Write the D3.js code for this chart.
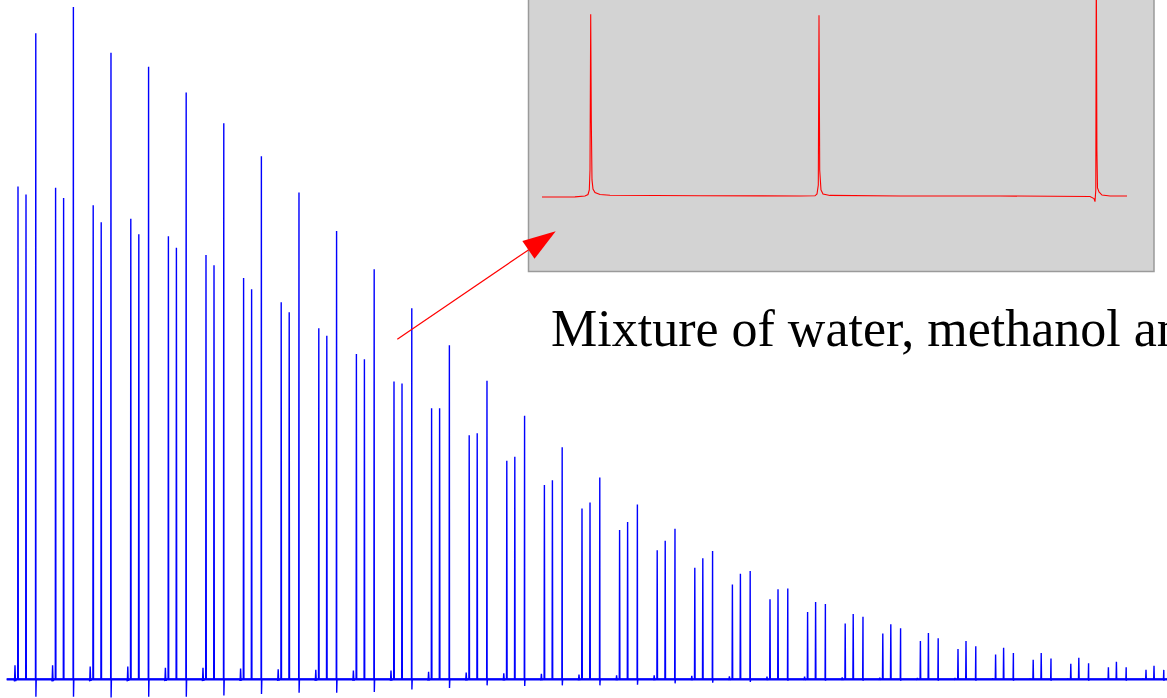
<!DOCTYPE html>
<html>
<head>
<meta charset="utf-8">
<script src="https://cdn.jsdelivr.net/npm/d3@7"></script>
<style>
  html, body { margin: 0; padding: 0; background: #fff; overflow: hidden; }
  svg { display: block; }
</style>
</head>
<body>
<svg id="chart" width="1167" height="698"></svg>
<script>
// ---- Series of 1D spectra, one group of lines per acquisition ----
const scans = d3.range(31);

// line intensities per acquisition (arbitrary units)
const peakA = [73.3, 73.1, 70.5, 68.5, 65.9, 63.1, 59.7, 56.1, 52.2, 48.4, 44.3, 40.3, 36.3, 32.5, 28.9, 25.4,
               22.2, 19.2, 16.6, 14.1, 11.9, 10.0, 8.3, 6.8, 5.7, 4.5, 3.7, 2.9, 2.3, 1.8, 1.4];
const peakB = [72.1, 71.6, 68.0, 66.2, 64.2, 61.6, 58.0, 54.6, 51.1, 47.6, 44.0, 40.3, 36.6, 33.1, 29.6, 26.3,
               23.4, 20.6, 18.0, 15.7, 13.4, 11.5, 9.7, 8.2, 6.9, 5.7, 4.7, 3.9, 3.2, 2.6, 2.0];
const peakC = [96.1, 100.0, 93.2, 91.1, 87.3, 82.7, 77.8, 72.4, 66.7, 61.0, 55.2, 49.7, 44.4, 39.2, 34.5, 30.0,
               26.0, 22.4, 19.1, 16.1, 13.5, 11.2, 9.3, 7.6, 6.1, 4.9, 3.9, 3.1, 2.4, 1.8, 1.4];
// small leading artefact of each acquisition
const leadSpike = [2.1, 2.1, 1.9, 1.9, 1.7, 1.7, 1.6, 1.5, 1.4, 1.3, 1.3, 1.1, 1.0, 0.9, 0.8, 0.7,
                   0.6, 0.6, 0.5, 0.45, 0.4, 0.4, 0.3, 0.25, 0.2, 0.2, 0.15, 0.1, 0.08, 0.08, 0.08];
// undershoot below the baseline after line C
const undershootC = [2.6, 2.6, 2.7, 2.6, 2.6, 2.4, 2.2, 2.0, 2.0, 1.9, 1.5, 1.3, 0.9, 1.0, 0.9, 0.9,
                     0.8, 0.6, 0.5, 0.4, 0.2, 0.2, 0.2, 0.2, 0.2, 0.2, 0.2, 0.2, 0.2, 0.2, 0.2];
// line positions inside one acquisition, in acquisition units
const lineOffset = { lead: -0.08, A: 0, B: 0.213, C: 0.473 };

// ---- Reference spectrum of the mixture (inset) ----
const refShift = [0, 33, 43, 46, 47.3, 48, 48.7, 49.3, 50, 51, 53, 58, 68, 158, 258,
                  273, 275, 276.3, 277, 277.7, 279, 281, 288, 358, 458,
                  548, 552, 553, 553.8, 554.3, 554.9, 555.5, 557, 560, 568, 585];
const refIntensity = [-0.2, -0.1, 0.4, 1.2, 3.7, 14.6, 100, 42.0, 9.2, 4.2, 2.3, 1.2, 0.8, 0.5, 0.4,
                      0.5, 1.5, 6.4, 99.5, 14.6, 3.7, 1.5, 0.7, 0.4, 0.4,
                      0.1, -1.0, -2.7, 3.7, 130, 25.6, 4.8, 2.6, 0.9, 0.4, 0.4];

const caption = "Mixture of water, methanol and";

// ---------------------------------------------------------------
const svg = d3.select("#chart");
const W = 1167, H = 698;

const x = d3.scaleLinear().domain([0, 30]).range([18, 1146]);
const y = d3.scaleLinear().domain([0, 100]).range([679.3, 7]);

// build the concatenated spectrum trace
const trace = [[-0.3, 0]];
scans.forEach(i => {
  const p = leadSpike[i];
  const l = i + lineOffset.lead;
  trace.push([l - 0.025, 0], [l - 0.012, -0.15 * p], [l, p], [l + 0.01, 0], [l + 0.02, -0.12 * p], [l + 0.032, 0]);
  const a = i + lineOffset.A;
  trace.push([a - 0.008, 0], [a, peakA[i]], [a + 0.008, 0]);
  const b = i + lineOffset.B;
  trace.push([b - 0.008, 0], [b, peakB[i]], [b + 0.008, 0]);
  const c = i + lineOffset.C;
  trace.push([c - 0.008, 0], [c, peakC[i]], [c + 0.003, -undershootC[i]], [c + 0.012, 0]);
});
trace.push([x.invert(W + 5), 0]);

const line = d3.line().x(d => x(d[0])).y(d => y(d[1]));

// baseline
svg.append("line")
  .attr("x1", x(-0.3)).attr("x2", W)
  .attr("y1", y(0)).attr("y2", y(0))
  .attr("stroke", "#0000ff").attr("stroke-width", 2.2);

svg.append("path")
  .datum(trace)
  .attr("d", line)
  .attr("fill", "none")
  .attr("stroke", "#0000ff")
  .attr("stroke-width", 1.4)
  .attr("stroke-linejoin", "miter")
  .attr("stroke-miterlimit", 1);

// ---- inset panel ----
const inset = { x0: 528.5, x1: 1154, y0: -4, y1: 271.5 };
svg.append("rect")
  .attr("x", inset.x0).attr("y", inset.y0)
  .attr("width", inset.x1 - inset.x0).attr("height", inset.y1 - inset.y0)
  .attr("fill", "#d3d3d3")
  .attr("stroke", "#9a9a9a")
  .attr("stroke-width", 1.5);

const xr = d3.scaleLinear().domain([0, 585]).range([542, 1127]);
const yr = d3.scaleLinear().domain([0, 100]).range([196.7, 14.3]);

svg.append("path")
  .datum(d3.zip(refShift, refIntensity))
  .attr("d", d3.line().x(d => xr(d[0])).y(d => yr(d[1])))
  .attr("fill", "none")
  .attr("stroke", "#ff0000")
  .attr("stroke-width", 1.1);

// ---- arrow from the series to the inset ----
const tail = [397.3, 339.3], tip = [555.7, 231.3];
const headLen = 33, headHalf = 10.8;
const dx = tip[0] - tail[0], dy = tip[1] - tail[1];
const len = Math.hypot(dx, dy);
const ux = dx / len, uy = dy / len;
const base = [tip[0] - ux * headLen, tip[1] - uy * headLen];
svg.append("line")
  .attr("x1", tail[0]).attr("y1", tail[1])
  .attr("x2", base[0]).attr("y2", base[1])
  .attr("stroke", "#ff0000").attr("stroke-width", 1.2);
svg.append("polygon")
  .attr("points", [
    tip,
    [base[0] - uy * headHalf, base[1] + ux * headHalf],
    [base[0] + uy * headHalf, base[1] - ux * headHalf]
  ].map(p => p.join(",")).join(" "))
  .attr("fill", "#ff0000");

// ---- caption ----
svg.append("text")
  .attr("x", 551).attr("y", 346)
  .attr("font-family", "'Liberation Serif', 'Times New Roman', serif")
  .attr("font-size", 52)
  .attr("fill", "#000")
  .text(caption);
</script>
</body>
</html>
